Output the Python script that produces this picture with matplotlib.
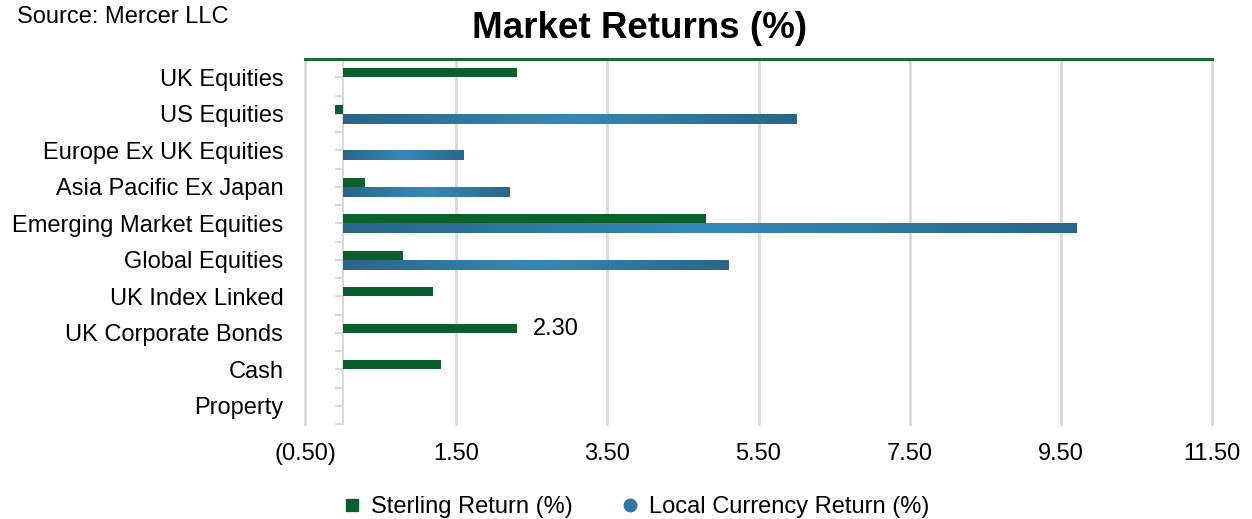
import matplotlib.pyplot as plt
import numpy as np
from matplotlib.colors import LinearSegmentedColormap
from matplotlib.lines import Line2D

plt.rcParams['font.family'] = ['Liberation Sans', 'DejaVu Sans']

# datos
categorias = ["UK Equities", "US Equities", "Europe Ex UK Equities", "Asia Pacific Ex Japan",
              "Emerging Market Equities", "Global Equities", "UK Index Linked",
              "UK Corporate Bonds", "Cash", "Property"]
sterling = [2.30, -0.10, 0.0, 0.30, 4.80, 0.80, 1.20, 2.30, 1.30, 0.0]
local = [0.0, 6.00, 1.60, 2.20, 9.70, 5.10, 0.0, 0.0, 0.0, 0.0]
ticks_x = [-0.5, 1.5, 3.5, 5.5, 7.5, 9.5, 11.5]
series = ["Sterling Return (%)", "Local Currency Return (%)"]

verde = "#0B5E2E"
azul = "#2F78A2"
gris = "#D9D9D9"

fig = plt.figure(figsize=(12.52, 5.19), dpi=100)
ax = fig.add_axes([305/1252, 1-424/519, 907/1252, 365/519])

y = np.arange(len(categorias))
ax.barh(y-0.125, sterling, height=0.25, color=verde, zorder=3)
barras = ax.barh(y+0.135, local, height=0.27, color=azul, zorder=3)

# degradado de las barras azules
cmap = LinearSegmentedColormap.from_list("azul", ["#2A6589", "#3689B5", "#2A6589"])
grad = np.linspace(0, 1, 256).reshape(1, -1)
for b, v in zip(barras, local):
    if v <= 0:
        continue
    im = ax.imshow(grad, cmap=cmap, aspect="auto", zorder=3.5,
                   extent=(b.get_x(), b.get_x()+b.get_width(), b.get_y()+b.get_height(), b.get_y()))
    im.set_clip_path(b)

# etiqueta de dato
ax.text(sterling[7]+0.21, 7-0.1, "%.2f" % sterling[7], va="center", ha="left", fontsize=17)

ax.set_xlim(-0.5, 11.5)
ax.set_ylim(9.5, -0.5)
ax.set_aspect("auto")

ax.set_xticks(ticks_x)
ax.set_xticklabels(["(%.2f)" % abs(t) if t < 0 else "%.2f" % t for t in ticks_x])
ax.tick_params(axis="x", length=0, pad=14, labelsize=17)

ax.set_yticks(y)
ax.set_yticklabels(categorias)
ax.set_yticks(np.arange(-0.5, 10, 1), minor=True)
ax.tick_params(axis="y", which="both", length=5.8, width=1.5, color=gris, pad=37, labelsize=17)

ax.spines["left"].set_position(("data", 0))
ax.spines["left"].set_color(gris)
ax.spines["left"].set_linewidth(1.5)
ax.spines["right"].set_visible(False)
ax.spines["bottom"].set_visible(False)
ax.spines["top"].set_color("#1A6B38")
ax.spines["top"].set_linewidth(2.2)

ax.grid(axis="x", color=gris, linewidth=2)
for g in ax.get_xgridlines():
    g.set_clip_on(False)
ax.set_axisbelow(True)

# titulo y fuente
fig.text(640/1252, 1-29/519, "Market Returns (%)", ha="center", va="center",
         fontsize=26.5, fontweight="bold")
fig.text(17/1252, 1-17/519, "Source: Mercer LLC", ha="left", va="center", fontsize=17)

# leyenda
handles = [Line2D([], [], marker="s", color=verde, ls="", markersize=9),
           Line2D([], [], marker="o", color=azul, ls="", markersize=9)]
fig.legend(handles, series, loc="center", bbox_to_anchor=(636/1252, 1-507/519), ncol=2,
           frameon=False, fontsize=17, columnspacing=2.0, handlelength=0.8, handletextpad=0.4)

fig.savefig("out.png", dpi=100)
